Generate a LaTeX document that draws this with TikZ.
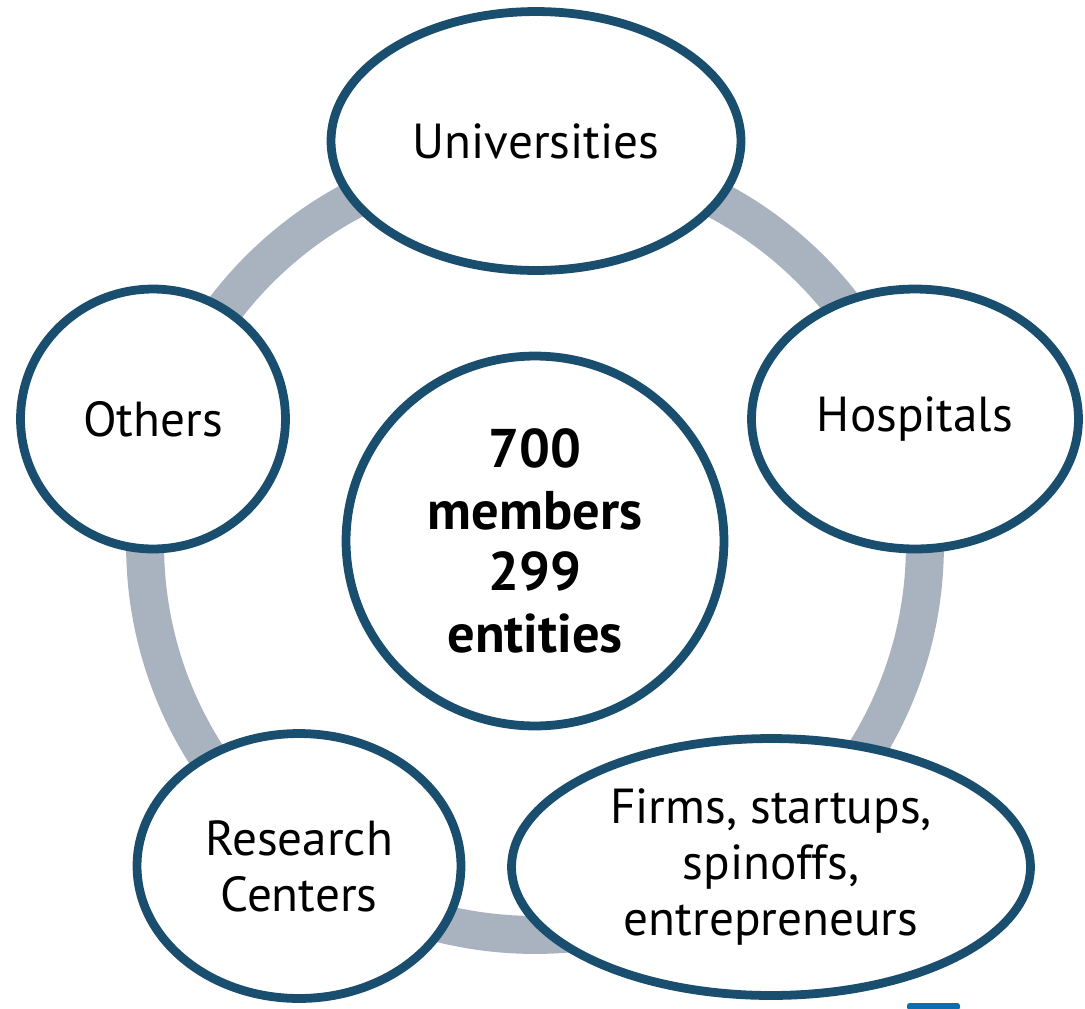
\documentclass[tikz,border=0pt]{standalone}
\usepackage{fontspec}
\setmainfont{PT Sans}
\usetikzlibrary{shapes.geometric}
\definecolor{ringgray}{HTML}{A9B2BF}
\definecolor{rimblue}{HTML}{1A4E6E}
\definecolor{tabblue}{HTML}{0A6EB0}
\tikzset{
	member/.style={ellipse, draw=rimblue, line width=5pt, fill=white, inner sep=0pt, align=center, font=\fontsize{28}{32}\selectfont},
	ring/.style={draw=ringgray, line width=0.76cm}
}
\begin{document}
\begin{tikzpicture}[x=0.02cm, y=-0.02cm]
			\useasboundingbox (0,0) rectangle (1085,1008);
			%ring behind the members
			\coordinate (ringc) at (535,545);
			\draw[ring] (ringc) circle (7.8cm);
			
			\node[member, minimum width=8.2cm, minimum height=5.18cm] (univ) at (536,141){Universities};
			\node[member, minimum width=5.3cm, minimum height=5.2cm] (others) at (153,419){Others};
			\node[member, minimum width=6.54cm, minimum height=5.2cm] (hosp) at (915,419){Hospitals};
			\node[member, minimum width=6.48cm, minimum height=5.3cm] (research) at (299,866){Research\\Centers};
			\node[member, minimum width=10.38cm, minimum height=5.14cm] (firms) at (771,867){Firms, startups,\\spinoffs,\\entrepreneurs};
			
			%center
			\node[member, minimum width=7.56cm, minimum height=7.4cm, font=\fontsize{31}{35}\selectfont\bfseries] (total) at (535,541){700\\members\\299\\entities};
			
			\fill[tabblue, rounded corners=1.5pt] (907,1010) -- (907,1003) -- (960,1003) -- (960,1010) -- cycle;
		\end{tikzpicture}
\end{document}
